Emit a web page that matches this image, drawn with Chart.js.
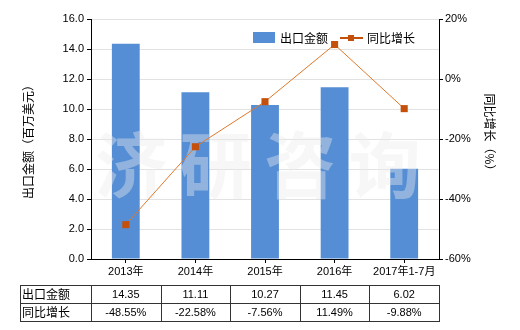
<!DOCTYPE html>
<html>
<head>
<meta charset="utf-8">
<script src="https://cdn.jsdelivr.net/npm/chart.js@4"></script>
<style>
  html, body { margin: 0; padding: 0; background: #fff; }
  #wrap { width: 520px; height: 330px; }
</style>
</head>
<body>
<div id="wrap"><canvas id="chart" width="520" height="330"></canvas></div>
<script>
const categories = ['2013年', '2014年', '2015年', '2016年', '2017年1-7月'];
const exportValues = [14.35, 11.11, 10.27, 11.45, 6.02];
const growthValues = [-48.55, -22.58, -7.56, 11.49, -9.88];
const exportLabels = ['14.35', '11.11', '10.27', '11.45', '6.02'];
const growthLabels = ['-48.55%', '-22.58%', '-7.56%', '11.49%', '-9.88%'];

const barColor = '#558ed5';
const lineColor = '#e0782a';
const pointColor = '#c4500c';
const font = '"Liberation Sans", "Noto Sans CJK SC", sans-serif';
const cjkFont = '"Noto Sans CJK SC", sans-serif';

// watermark, drawn just above the bars
const watermark = {
    id: 'watermark',
    afterDatasetDraw(chart, args) {
        if (args.index !== 0) return;
        const ctx = chart.ctx;
        const area = chart.chartArea;
        ctx.save();
        ctx.fillStyle = 'rgba(235,235,235,0.4)';
        ctx.font = 'bold 72px ' + cjkFont;
        ctx.textAlign = 'center';
        ctx.textBaseline = 'middle';
        const chars = ['济', '研', '咨', '询'];
        const w = area.right - area.left;
        chars.forEach((c, i) => {
            ctx.fillText(c, area.left + w * (0.115 + i * 0.243), 165);
        });
        ctx.restore();
    }
};

// legend, axis titles and the data table
const extras = {
    id: 'extras',
    afterDraw(chart) {
        const ctx = chart.ctx;
        const area = chart.chartArea;
        const x = chart.scales.x;
        ctx.save();

        // legend
        ctx.fillStyle = barColor;
        ctx.fillRect(253, 32, 22, 11);
        ctx.fillStyle = '#000';
        ctx.font = '12px ' + cjkFont;
        ctx.textBaseline = 'middle';
        ctx.textAlign = 'left';
        ctx.fillText('出口金额', 280, 38);
        ctx.strokeStyle = pointColor;
        ctx.lineWidth = 2;
        ctx.beginPath();
        ctx.moveTo(340, 38);
        ctx.lineTo(363, 38);
        ctx.stroke();
        ctx.fillStyle = pointColor;
        ctx.fillRect(348, 35, 6, 6);
        ctx.fillStyle = '#000';
        ctx.fillText('同比增长', 367, 38);

        // axis titles
        const midY = (area.top + area.bottom) / 2;
        ctx.save();
        ctx.translate(28, midY);
        ctx.rotate(-Math.PI / 2);
        ctx.textAlign = 'center';
        ctx.fillText('出口金额（百万美元）', 0, 0);
        ctx.restore();
        ctx.save();
        ctx.translate(490, midY - 4);
        ctx.rotate(Math.PI / 2);
        ctx.textAlign = 'center';
        ctx.fillText('同比增长（%）', 0, 0);
        ctx.restore();

        // table
        const half = (x.getPixelForValue(1) - x.getPixelForValue(0)) / 2;
        const left = 20;
        const right = x.getPixelForValue(categories.length - 1) + half;
        const top = 285, mid = 303, bottom = 321;
        ctx.strokeStyle = '#333';
        ctx.lineWidth = 1;
        ctx.beginPath();
        [top, mid, bottom].forEach(y => {
            ctx.moveTo(left, y + 0.5);
            ctx.lineTo(right, y + 0.5);
        });
        ctx.moveTo(left + 0.5, top);
        ctx.lineTo(left + 0.5, bottom + 1);
        categories.forEach((c, i) => {
            const px = Math.round(x.getPixelForValue(i) - half) + 0.5;
            ctx.moveTo(px, top);
            ctx.lineTo(px, bottom + 1);
        });
        ctx.moveTo(Math.round(right) + 0.5, top);
        ctx.lineTo(Math.round(right) + 0.5, bottom + 1);
        ctx.stroke();

        ctx.fillStyle = '#000';
        ctx.textAlign = 'left';
        ctx.font = '12px ' + cjkFont;
        ctx.fillText('出口金额', left + 2, (top + mid) / 2);
        ctx.fillText('同比增长', left + 2, (mid + bottom) / 2);
        ctx.textAlign = 'center';
        ctx.font = '11px ' + font;
        categories.forEach((c, i) => {
            const px = x.getPixelForValue(i);
            ctx.fillText(exportLabels[i], px, (top + mid) / 2 + 1);
            ctx.fillText(growthLabels[i], px, (mid + bottom) / 2 + 1);
        });
        ctx.restore();
    }
};

new Chart('chart', {
    data: {
        labels: categories,
        datasets: [
            {
                type: 'bar',
                label: '出口金额',
                data: exportValues,
                backgroundColor: barColor,
                yAxisID: 'y',
                barPercentage: 0.4,
                categoryPercentage: 1,
                order: 1,
            },
            {
                type: 'line',
                label: '同比增长',
                data: growthValues,
                borderColor: lineColor,
                borderWidth: 1,
                pointStyle: 'rect',
                pointRadius: 5,
                pointBackgroundColor: pointColor,
                pointBorderColor: pointColor,
                pointBorderWidth: 0,
                yAxisID: 'y1',
                order: 0,
            },
        ],
    },
    options: {
        responsive: false,
        animation: false,
        layout: { padding: { top: 19, left: 0, right: 0, bottom: 0 } },
        plugins: {
            legend: { display: false },
            tooltip: { enabled: false },
        },
        scales: {
            x: {
                afterFit: (s) => { s.height = 71; },
                grid: { offset: false, drawOnChartArea: false, tickLength: 4, tickColor: '#000' },
                border: { color: '#000' },
                ticks: { color: '#000', font: { size: 11, family: font }, padding: 2, maxRotation: 0 },
            },
            y: {
                position: 'left',
                min: 0,
                max: 16,
                afterFit: (s) => { s.width = 91; },
                ticks: {
                    stepSize: 2,
                    color: '#000',
                    padding: 3,
                    font: { size: 11, family: font },
                    callback: (v) => v.toFixed(1),
                },
                grid: { color: '#e2e2e2', tickColor: '#000', tickLength: 4 },
                border: { color: '#000' },
            },
            y1: {
                position: 'right',
                min: -60,
                max: 20,
                afterFit: (s) => { s.width = 81; },
                ticks: {
                    stepSize: 20,
                    color: '#000',
                    padding: 2,
                    font: { size: 11, family: font },
                    callback: (v) => v + '%',
                },
                grid: { drawOnChartArea: false, tickColor: '#000', tickLength: 4 },
                border: { color: '#000' },
            },
        },
    },
    plugins: [watermark, extras],
});
</script>
</body>
</html>
